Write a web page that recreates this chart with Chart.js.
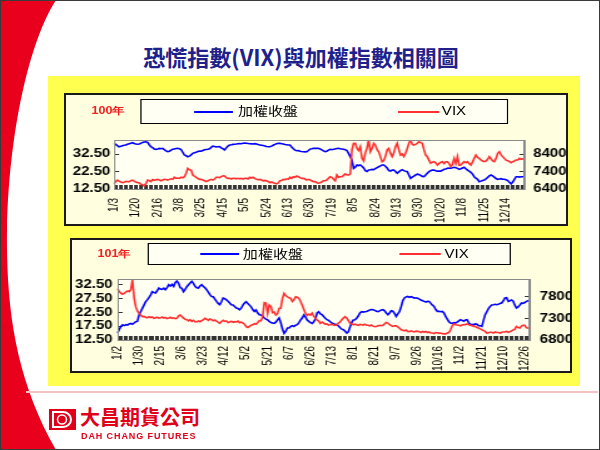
<!DOCTYPE html>
<html>
<head>
<meta charset="utf-8">
<script src="https://cdn.jsdelivr.net/npm/chart.js@4.4.0/dist/chart.umd.min.js"></script>
<style>
    html, body { margin: 0; padding: 0; background: #fff; }
    #slide { position: relative; width: 600px; height: 450px; overflow: hidden; background: #fff; }
    #swoosh { position: absolute; left: 0; top: 0; }
    #title { position: absolute; left: 0; width: 602px; top: 43px; text-align: center; font: bold 22px/26px "Noto Sans CJK TC"; color: #20208a; }
    #ybox { position: absolute; left: 48px; top: 76px; width: 532px; height: 310px; background: #ffff4f; }
    .panel { position: absolute; box-sizing: border-box; background: #ffffe0; border: 2px solid #1a1a1a; }
    .wrap { position: absolute; transform-origin: 0 0; }
    .wrap canvas { position: absolute; left: 0; top: 0; }
    .year { position: absolute; font: bold 10px/12px "Liberation Sans", Arial, sans-serif; color: #f02020; }
    .legend { position: absolute; box-sizing: border-box; background: #fffff4; border: 1px solid #000; }
    .legend .ln { position: absolute; height: 2px; }
    .legend .tx { position: absolute; font: 12px/14px "Noto Sans CJK TC", "Liberation Sans", sans-serif; color: #000; white-space: nowrap; }
    #pink { position: absolute; left: 26px; top: 391px; width: 572px; height: 2px; background: #f2c2c2; }
    #brand { position: absolute; left: 80px; top: 405px; font: bold 20px/24px "Noto Sans CJK TC"; color: #e0001a; }
    #brandEn { position: absolute; left: 81px; top: 431px; font: bold 9px/11px "Liberation Sans", Arial, sans-serif; color: #e0001a; letter-spacing: 0.9px; }
    #frame { position: absolute; left: 0; top: 0; width: 600px; height: 450px; box-sizing: border-box; border: 1px solid #3a3a3a; }
</style>
</head>
<body>
<div id="slide">
    <svg id="swoosh" width="600" height="450">
        <path d="M0,0 H56 C30,40 9,130 7,230 C6,310 16,380 56,450 H0 Z" fill="#e8001c"/>
    </svg>
    <div id="title">恐慌指數(VIX)與加權指數相關圖</div>
    <div id="ybox"></div>

    <div class="panel" style="left:64px; top:93px; width:504px; height:133px;"></div>
    <div class="wrap" id="wrap1" style="left:64px; top:93px; width:402px; height:132px; transform:scaleX(1.2512);">
        <canvas id="chart2011" width="402" height="132"></canvas>
        <div class="year" style="left:22px; top:12px;">100年</div>
        <div class="legend" style="left:61px; top:6px; width:294px; height:25px;">
            <div class="ln" style="left:42px; top:11px; width:31px; background:#0000ff;"></div>
            <div class="tx" style="left:77px; top:4px;">加權收盤</div>
            <div class="ln" style="left:205px; top:11px; width:33px; background:#ff3030;"></div>
            <div class="tx" style="left:240px; top:4px; font-family:'Liberation Sans', Arial, sans-serif;">VIX</div>
        </div>
    </div>

    <div class="panel" style="left:70px; top:238px; width:502px; height:135px;"></div>
    <div class="wrap" id="wrap2" style="left:70px; top:238px; width:400px; height:134px; transform:scaleX(1.2525);">
        <canvas id="chart2012" width="400" height="134"></canvas>
        <div class="year" style="left:22px; top:10px;">101年</div>
        <div class="legend" style="left:62px; top:5px; width:290px; height:22px;">
            <div class="ln" style="left:41px; top:9px; width:31px; background:#0000ff;"></div>
            <div class="tx" style="left:75px; top:3px;">加權收盤</div>
            <div class="ln" style="left:200px; top:9px; width:33px; background:#ff3030;"></div>
            <div class="tx" style="left:236px; top:3px; font-family:'Liberation Sans', Arial, sans-serif;">VIX</div>
        </div>
    </div>

    <div id="pink"></div>
    <svg style="position:absolute; left:48px; top:408px;" width="30" height="24">
        <rect x="1" y="1" width="27" height="21" fill="#e0001a"/>
        <path d="M5,4 H15 A8,7.5 0 0 1 15,19 H5 Z" fill="none" stroke="#fff" stroke-width="2"/>
        <circle cx="14" cy="11.5" r="4.5" fill="none" stroke="#fff" stroke-width="1.5"/>
    </svg>
    <div id="brand">大昌期貨公司</div>
    <div id="brandEn">DAH CHANG FUTURES</div>
    <div id="frame"></div>
</div>

<script>
// Date labels on the x axis (one every 13 trading days)
const labelEvery = 13;
const dates2011 = ['1/3','1/20','2/16','3/8','3/25','4/15','5/5','5/24','6/13','6/30','7/19','8/5','8/24','9/13','9/30','10/20','11/8','11/25','12/14'];
const dates2012 = ['1/2','1/30','2/15','3/6','3/23','4/12','5/2','5/21','6/7','6/26','7/13','8/1','8/21','9/7','9/26','10/16','11/2','11/21','12/10','12/26'];

// 100年: 加權收盤 (right axis) and VIX (left axis)
const taiex2011 = [
    9010,8950,8880,8815,8840,8870,8900,8912,8960,8990,9020,9044,9000,
    8970,8960,8970,9010,9060,9090,9101,9070,8930,8815,8760,8690,8667,
    8690,8720,8700,8724,8650,8580,8530,8560,8620,8667,8690,8710,8724,
    8700,8650,8500,8341,8300,8244,8280,8350,8438,8470,8500,8540,8570,
    8560,8600,8640,8660,8667,8700,8780,8855,8830,8800,8815,8820,8750,
    8700,8627,8750,8850,8912,8930,8950,8960,8970,8990,9000,8990,9010,
    9020,9010,9000,8990,8980,8970,8990,8970,8940,8920,8900,8880,8860,
    8830,8815,8815,8850,8900,8950,8990,9010,9010,8990,8970,8940,8930,
    8912,8912,8800,8700,8620,8587,8600,8560,8540,8530,8520,8530,8600,
    8680,8700,8724,8730,8720,8724,8690,8640,8580,8530,8560,8620,8667,
    8650,8667,8690,8710,8724,8700,8690,8667,8640,8600,8438,8250,8056,
    7582,7650,7770,7740,7770,7700,7600,7450,7400,7485,7500,7520,7500,
    7560,7620,7673,7720,7770,7770,7700,7600,7450,7420,7480,7485,7400,
    7296,7380,7450,7500,7450,7420,7400,7200,7011,7080,7142,7200,7250,
    7230,7180,7120,7102,7200,7300,7388,7445,7480,7485,7440,7420,7430,
    7420,7470,7525,7540,7582,7600,7580,7620,7639,7620,7580,7525,7560,
    7600,7639,7560,7480,7420,7350,7250,7102,7020,6950,6817,6850,6890,
    6910,6980,7060,7150,7200,7150,7080,7000,6954,6970,6990,6960,6954,
    6930,6880,6780,6686,6800,6950,7102,7102,7080,7100,7102,7102
];
const vix2011 = [
    15.5,16.7,17.6,17.0,16.5,16.1,16.4,16.9,16.7,16.7,17.2,17.6,17.0,
    16.5,16.1,16.1,15.2,15.0,14.2,15.5,17.6,17.2,16.7,17.9,17.5,17.8,
    18.0,17.6,17.2,17.6,18.0,17.9,17.6,18.0,18.3,18.0,19.2,18.6,18.8,
    18.6,19.2,18.9,19.5,21.5,24.3,23.4,23.4,20.5,19.8,19.2,18.6,18.0,
    18.0,17.6,17.2,16.7,17.2,17.6,18.0,17.6,18.2,19.2,19.2,19.0,19.6,
    20.0,19.9,19.0,18.6,18.6,18.2,18.6,18.6,18.3,18.6,18.3,18.6,18.2,
    18.6,18.6,18.2,19.2,18.8,19.2,18.6,18.0,17.8,18.0,17.6,17.2,17.4,
    17.2,16.8,16.1,16.5,16.1,15.8,15.4,15.9,17.2,17.4,18.0,17.8,18.3,
    18.0,19.2,18.6,19.5,19.2,19.9,19.5,19.0,18.6,18.6,18.2,17.6,18.0,
    17.6,17.2,16.7,16.7,16.1,15.8,16.1,16.5,17.2,17.2,17.6,18.6,19.5,
    19.2,18.0,17.2,20.5,19.2,19.5,19.5,20.3,21.1,20.5,20.5,21.0,34.8,
    38.6,38.6,35.7,34.5,36.7,30.0,28.5,33.0,36.0,40.5,33.8,35.7,38.6,
    37.6,35.0,33.8,31.0,28.1,28.7,31.0,34.8,35.7,33.0,31.0,33.0,36.7,
    38.6,35.0,31.9,32.5,31.0,32.9,35.5,38.6,40.5,38.0,37.6,38.0,38.6,
    39.5,39.0,38.6,35.0,31.9,31.0,29.0,27.2,27.8,28.1,27.5,26.2,27.0,
    27.8,28.1,27.0,28.1,28.1,27.0,25.2,26.5,30.0,27.0,31.0,26.0,26.2,
    27.2,28.1,27.5,28.1,27.0,26.2,28.0,30.0,31.9,30.5,30.0,29.1,28.5,
    28.1,28.5,29.5,31.0,29.8,28.5,28.1,30.0,32.9,33.8,32.0,31.0,30.0,
    29.0,28.7,28.1,27.5,28.1,28.5,29.1,29.1,30.0,29.5,29.8,29.6
];

// 101年
const taiex2012 = [
    6961,7040,7112,7150,7130,7151,7140,7170,7181,7160,7190,7220,7227,
    7374,7450,7525,7600,7679,7720,7771,7830,7908,7890,7879,7930,7993,
    7970,7960,7990,7954,8000,8069,8040,8076,8030,8120,8154,8100,8000,
    7984,7908,7960,8023,8069,8110,8145,8100,8030,8000,7993,8040,8069,
    8030,8000,7954,7900,7840,7800,7794,7740,7686,7640,7610,7679,7764,
    7750,7720,7690,7650,7610,7603,7570,7534,7525,7495,7530,7600,7649,
    7679,7640,7600,7560,7500,7456,7488,7420,7381,7374,7350,7305,7280,
    7260,7227,7200,7190,7180,7210,7260,7305,7200,7050,6951,7000,7075,
    7075,7112,7130,7112,7140,7151,7200,7259,7305,7374,7330,7260,7227,
    7200,7181,7220,7280,7420,7449,7400,7381,7340,7300,7266,7250,7220,
    7190,7170,7160,7151,7120,7080,7050,7036,7000,6961,6990,7100,7200,
    7259,7266,7300,7350,7420,7449,7440,7450,7456,7470,7490,7500,7495,
    7480,7460,7450,7470,7490,7495,7470,7420,7381,7420,7470,7460,7410,
    7342,7400,7450,7564,7700,7764,7790,7801,7780,7794,7780,7760,7770,
    7760,7740,7718,7700,7686,7670,7690,7686,7640,7600,7571,7500,7456,
    7460,7450,7456,7420,7342,7280,7220,7190,7180,7200,7190,7210,7240,
    7266,7250,7230,7260,7266,7200,7151,7160,7150,7170,7160,7130,7128,
    7112,7250,7381,7449,7520,7571,7603,7610,7620,7610,7620,7640,7650,
    7700,7764,7771,7686,7700,7720,7690,7600,7534,7560,7600,7649,7640,
    7660,7686,7700,7700
];
const vix2012 = [
    31.0,30.0,29.4,29.0,29.3,29.8,30.2,29.9,30.6,34.3,27.8,24.5,23.0,
    22.1,21.5,20.9,21.0,20.7,20.5,20.9,20.6,20.8,20.3,20.5,20.7,20.4,
    20.5,20.8,20.4,20.6,20.2,20.4,20.7,20.3,20.5,20.2,20.3,21.2,21.5,
    21.0,20.4,20.0,19.8,19.4,19.8,19.2,19.6,19.1,19.0,19.4,19.1,19.5,
    19.8,20.3,20.0,19.6,20.1,19.8,19.4,19.7,19.3,18.9,18.5,19.2,19.6,
    19.2,19.4,18.8,19.0,19.3,18.9,19.1,19.0,19.3,18.7,19.0,18.6,18.2,
    17.3,17.0,17.4,17.8,18.0,18.4,18.2,18.8,19.5,19.4,20.9,26.0,25.8,
    22.1,25.1,24.6,22.4,22.6,21.5,22.0,23.9,24.0,27.5,29.3,28.5,28.1,
    27.7,27.5,26.4,27.0,28.1,27.9,27.5,26.5,25.0,23.5,22.1,21.4,21.8,
    21.5,22.2,21.0,20.4,19.7,19.3,18.5,19.0,18.6,18.2,18.3,17.9,18.0,
    18.2,17.9,17.8,18.0,18.6,19.0,19.8,20.4,20.9,20.4,19.5,18.6,18.3,
    18.0,18.2,18.0,17.8,18.1,18.0,17.9,18.2,17.8,17.8,17.6,17.9,17.5,
    17.3,17.4,17.6,17.8,17.7,17.8,18.3,18.8,18.6,18.0,17.7,17.4,17.6,
    17.6,17.2,16.8,16.2,16.0,15.8,16.1,15.6,15.5,15.8,15.6,15.4,15.7,
    15.6,15.5,15.2,15.6,15.3,15.6,15.2,15.4,15.0,15.0,14.8,15.2,15.1,
    14.9,15.0,14.8,14.7,14.7,15.0,15.2,16.2,17.6,18.3,18.0,17.9,17.8,
    17.6,17.9,18.1,18.0,18.3,18.0,17.9,17.6,17.4,17.4,17.0,16.8,16.5,
    16.2,15.9,15.6,15.0,15.1,15.3,15.3,15.0,15.4,15.2,15.2,15.0,15.3,
    15.4,15.4,15.6,15.3,15.5,15.8,16.1,16.4,17.4,17.0,16.8,17.5,17.8,
    17.8,16.9,16.8,16.6
];

// Tick values of both y axes
const vixTicks2011 = [12.5, 22.5, 32.5];
const taiexTicks2011 = [6400, 7400, 8400];
const vixTicks2012 = [12.5, 17.5, 22.5, 27.5, 32.5];
const taiexTicks2012 = [6800, 7300, 7800];

Chart.defaults.font.family = '"Liberation Sans", Arial, sans-serif';
Chart.defaults.color = '#000';

// Plot area background and frame
const plotFrame = {
    id: 'plotFrame',
    beforeDraw(chart) {
        const a = chart.chartArea;
        const ctx = chart.ctx;
        ctx.save();
        ctx.fillStyle = '#fffff2';
        ctx.fillRect(a.left, a.top, a.right - a.left, a.bottom - a.top);
        ctx.restore();
    },
    afterDraw(chart) {
        const a = chart.chartArea;
        const ctx = chart.ctx;
        ctx.save();
        ctx.strokeStyle = '#8a8a8a';
        ctx.lineWidth = 1;
        ctx.strokeRect(a.left + 0.5, a.top + 0.5, a.right - a.left - 1, a.bottom - a.top);
        ctx.restore();
    }
};

function createChart(canvasId, cfg) {
    const labels = cfg.taiex.map((v, i) => i);
    return new Chart(document.getElementById(canvasId), {
        type: 'line',
        data: {
            labels: labels,
            datasets: [{
                label: '加權收盤',
                data: cfg.taiex,
                yAxisID: 'yR',
                borderColor: '#0000ff',
                borderWidth: 1.6,
                pointRadius: 0,
                tension: 0,
                order: 1
            }, {
                label: 'VIX',
                data: cfg.vix,
                yAxisID: 'yL',
                borderColor: '#ff3030',
                borderWidth: 1.6,
                pointRadius: 0,
                tension: 0,
                order: 0
            }]
        },
        options: {
            responsive: false,
            animation: false,
            events: [],
            layout: { padding: { top: cfg.top, left: 0, right: 0, bottom: 0 } },
            plugins: { legend: { display: false }, tooltip: { enabled: false } },
            scales: {
                x: {
                    type: 'category',
                    offset: false,
                    border: { color: '#555', width: 1 },
                    grid: { drawOnChartArea: false, tickLength: -4, color: '#333', lineWidth: 1 },
                    ticks: {
                        autoSkip: false,
                        minRotation: 90,
                        maxRotation: 90,
                        padding: cfg.xPad,
                        font: { size: 10 },
                        callback: function(value, i) {
                            return i % labelEvery === 0 ? cfg.dates[i / labelEvery] : '';
                        }
                    },
                    afterFit: function(scale) { scale.height = cfg.xHeight; }
                },
                yL: {
                    position: 'left',
                    min: 12.5,
                    max: cfg.vixMax,
                    border: { color: '#8a8a8a' },
                    grid: { drawOnChartArea: false, tickLength: -4, color: '#333' },
                    ticks: {
                        autoSkip: false,
                        padding: cfg.lPad,
                        font: { size: 12, weight: 'bold' },
                        callback: v => v.toFixed(2)
                    },
                    afterBuildTicks: function(axis) {
                        axis.ticks = cfg.vixTicks.map(v => ({ value: v }));
                    },
                    afterFit: function(scale) { scale.width = cfg.lWidth; }
                },
                yR: {
                    position: 'right',
                    min: cfg.taiexMin,
                    max: cfg.taiexMax,
                    border: { color: '#8a8a8a' },
                    grid: { drawOnChartArea: false, tickLength: -4, color: '#333' },
                    ticks: {
                        autoSkip: false,
                        padding: cfg.rPad,
                        font: { size: 12, weight: 'bold' },
                        callback: v => String(v)
                    },
                    afterBuildTicks: function(axis) {
                        axis.ticks = cfg.taiexTicks.map(v => ({ value: v }));
                    },
                    afterFit: function(scale) { scale.width = cfg.rWidth; }
                }
            }
        },
        plugins: [plotFrame]
    });
}

createChart('chart2011', {
    taiex: taiex2011, vix: vix2011, dates: dates2011,
    vixMax: 40.5, vixTicks: vixTicks2011,
    taiexMin: 6400, taiexMax: 9200, taiexTicks: taiexTicks2011,
    top: 47, xHeight: 36, lWidth: 40, rWidth: 34,
    xPad: 13, lPad: 7, rPad: 11
});

createChart('chart2012', {
    taiex: taiex2012, vix: vix2012, dates: dates2012,
    vixMax: 34.5, vixTicks: vixTicks2012,
    taiexMin: 6800, taiexMax: 8200, taiexTicks: taiexTicks2012,
    top: 41, xHeight: 32, lWidth: 38, rWidth: 33,
    xPad: 10, lPad: 8, rPad: 12
});
</script>
</body>
</html>
